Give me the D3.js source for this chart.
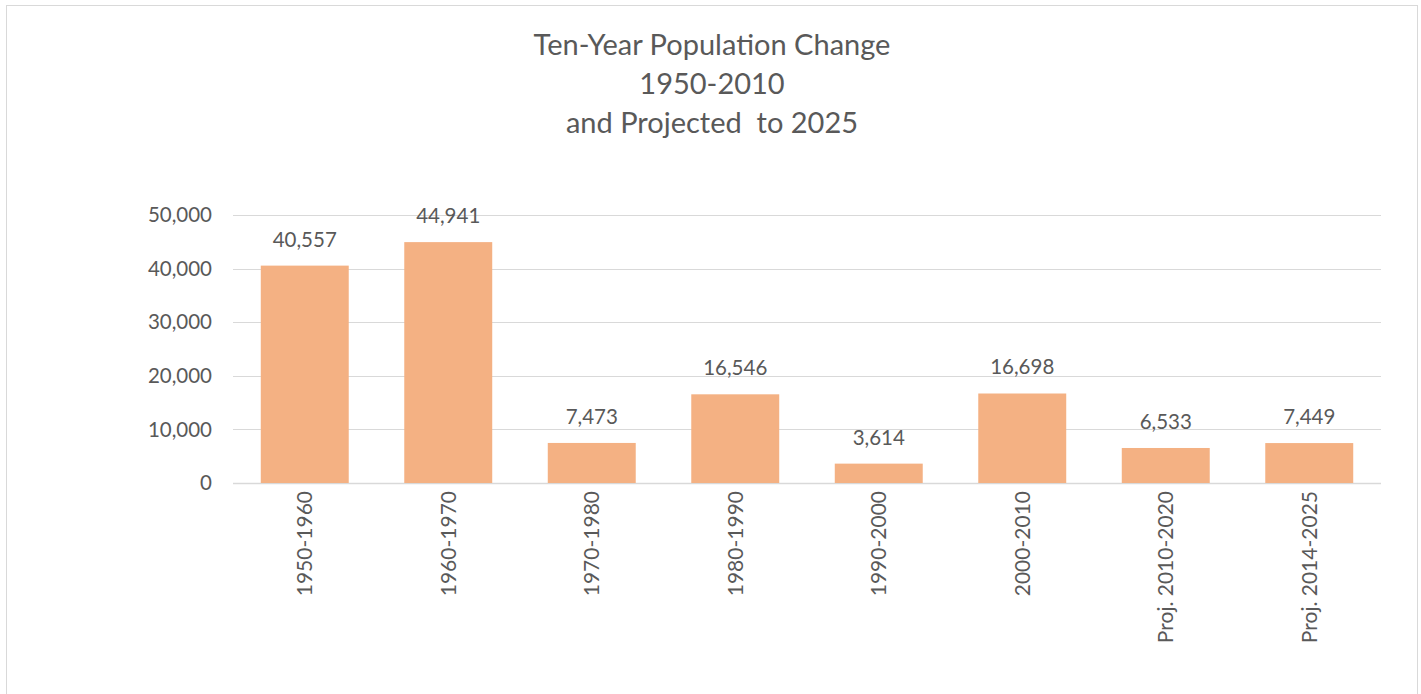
<!DOCTYPE html>
<html><head><meta charset="utf-8">
<script src="https://cdn.jsdelivr.net/npm/d3@7"></script>
<style>
body{margin:0;background:#fff;}
text{font-family:"Lato","Open Sans",sans-serif;fill:#595959;}
</style></head>
<body><svg id="c" width="1421" height="694"></svg>
<script>
const categories = ["1950-1960","1960-1970","1970-1980","1980-1990","1990-2000","2000-2010","Proj. 2010-2020","Proj. 2014-2025"];
const values = [40557,44941,7473,16546,3614,16698,6533,7449];
const yTicks = [0,10000,20000,30000,40000,50000];
const titleLines = ["Ten-Year Population Change","1950-2010","and Projected  to 2025"];

(function(){
const svg = d3.select("#c");
svg.append("rect").attr("x",6.5).attr("y",5.5).attr("width",1411).attr("height",700)
  .attr("fill","#fff").attr("stroke","#d9d9d9").attr("stroke-width",1);

const pLeft=233, pRight=1381, pTop=215, pBottom=483;
const x = d3.scaleBand().domain(categories).range([pLeft,pRight]).paddingInner(0.387).paddingOuter(0.1935);
const y = d3.scaleLinear().domain([0,50000]).range([pBottom,pTop]);

const title = svg.append("text").attr("text-anchor","middle").style("font-size","29px").style("white-space","pre");
titleLines.forEach((t,i)=>title.append("tspan").attr("x",712).attr("y",55+i*39).text(t));

const fmt = d3.format(",");
const g = svg.append("g");
g.selectAll("line.grid").data(yTicks).join("line")
  .attr("x1",pLeft).attr("x2",pRight)
  .attr("y1",d=>Math.round(y(d))+0.5).attr("y2",d=>Math.round(y(d))+0.5)
  .attr("stroke","#d9d9d9").attr("stroke-width",d=>d===0?1.5:1.2);
g.selectAll("text.yt").data(yTicks).join("text")
  .attr("x",212).attr("y",d=>y(d)).attr("dy","0.35em").attr("text-anchor","end")
  .style("font-size","20.5px").text(d=>fmt(d));

g.selectAll("rect.bar").data(values).join("rect")
  .attr("x",(d,i)=>x(categories[i])).attr("width",x.bandwidth())
  .attr("y",d=>y(d)).attr("height",d=>pBottom-y(d)).attr("fill","#F4B183");

g.selectAll("text.lbl").data(values).join("text")
  .attr("x",(d,i)=>x(categories[i])+x.bandwidth()/2).attr("y",d=>y(d)-19)
  .attr("text-anchor","middle").style("font-size","20.5px").text(d=>fmt(d));

g.selectAll("text.cat").data(categories).join("text")
  .attr("transform",d=>`translate(${x(d)+x.bandwidth()/2},491) rotate(-90)`)
  .attr("dy","0.35em").attr("text-anchor","end").style("font-size","21px").text(d=>d);
})();
</script></body></html>
